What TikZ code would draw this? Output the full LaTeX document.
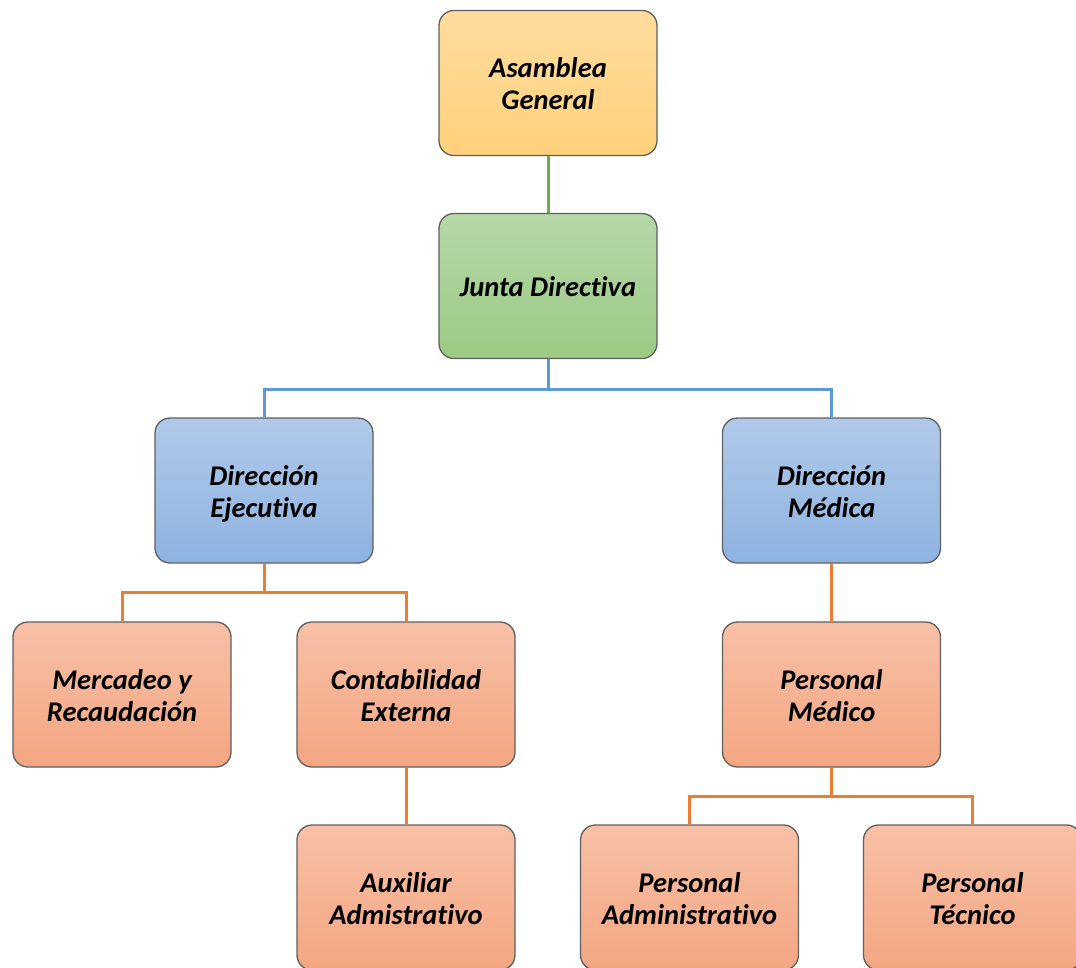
\documentclass[tikz,border=0pt]{standalone}
\usepackage{fontspec}
\setmainfont{Carlito}[Ligatures=NoCommon]
\newcommand\boxtext[1]{\begin{tabular}{@{}c@{}}\rule{0pt}{31pt}#1\end{tabular}}
\definecolor{ylT}{HTML}{FFDC9E}\definecolor{ylB}{HTML}{FFD17C}
\definecolor{grT}{HTML}{B6D7A8}\definecolor{grB}{HTML}{9BCB84}
\definecolor{blT}{HTML}{B0C9E9}\definecolor{blB}{HTML}{8EB3E0}
\definecolor{orT}{HTML}{F7C0A6}\definecolor{orB}{HTML}{F4A682}
\definecolor{lnG}{HTML}{70AD47}\definecolor{lnB}{HTML}{5B9BD5}\definecolor{lnO}{HTML}{ED7D31}
\definecolor{bord}{HTML}{5F5F5F}
\begin{document}
\begin{tikzpicture}[x=1pt,y=-1pt,
  box/.style={draw=bord, line width=1.3pt, rounded corners=15pt, minimum width=218pt, minimum height=145pt,
    font=\fontsize{28.5}{32}\selectfont\bfseries\itshape, text=black},
  ybox/.style={box, top color=ylT, bottom color=ylB},
  gbox/.style={box, top color=grT, bottom color=grB},
  bbox/.style={box, top color=blT, bottom color=blB},
  obox/.style={box, top color=orT, bottom color=orB},
  conn/.style={line width=3pt}]
\useasboundingbox (0,0) rectangle (1076,967);
\clip (0,0) rectangle (1076,967);
\node[ybox] (AG) at (548,83) {\boxtext{Asamblea\\General}};
\node[gbox] (JD) at (548,286) {\boxtext{Junta Directiva}};
\node[bbox] (DE) at (264,490.5) {\boxtext{Dirección\\Ejecutiva}};
\node[bbox] (DM) at (831.5,490.5) {\boxtext{Dirección\\Médica}};
\node[obox] (MR) at (122,694.5) {\boxtext{Mercadeo y\\Recaudación}};
\node[obox] (CE) at (406,694.5) {\boxtext{Contabilidad\\Externa}};
\node[obox] (PM) at (831.5,694.5) {\boxtext{Personal\\Médico}};
\node[obox] (AA) at (406,897.5) {\boxtext{Auxiliar\\Admistrativo}};
\node[obox] (PA) at (689.5,897.5) {\boxtext{Personal\\Administrativo}};
\node[obox] (PT) at (972.5,897.5) {\boxtext{Personal\\Técnico}};
\draw[conn, lnG] (AG.south) -- (JD.north);
\draw[conn, lnB] (JD.south) -- ++(0,30) -| (DE.north);
\draw[conn, lnB] (JD.south) -- ++(0,30) -| (DM.north);
\draw[conn, lnO] (DE.south) -- ++(0,29) -| (MR.north);
\draw[conn, lnO] (DE.south) -- ++(0,29) -| (CE.north);
\draw[conn, lnO] (DM.south) -- (PM.north);
\draw[conn, lnO] (CE.south) -- (AA.north);
\draw[conn, lnO] (PM.south) -- ++(0,29) -| (PA.north);
\draw[conn, lnO] (PM.south) -- ++(0,29) -| (PT.north);
\end{tikzpicture}
\end{document}
